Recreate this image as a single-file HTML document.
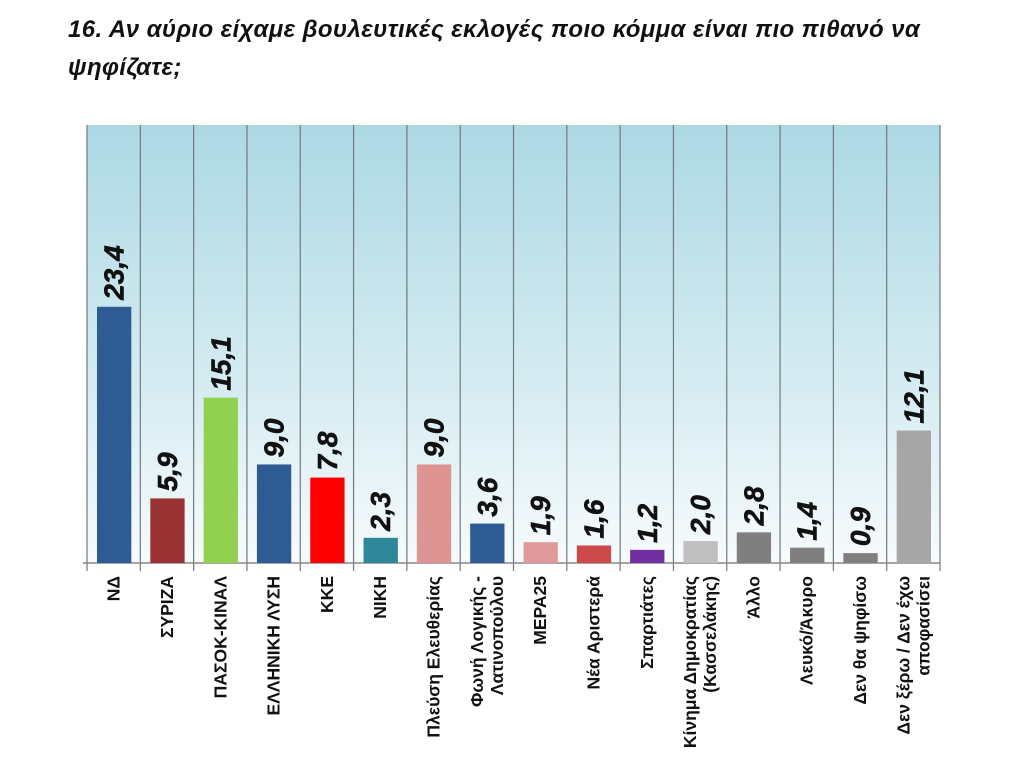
<!DOCTYPE html>
<html><head><meta charset="utf-8"><style>
html,body{margin:0;padding:0;background:#fff;width:1024px;height:768px;overflow:hidden}
#title{position:absolute;left:68px;top:11px;width:950px;font:italic bold 24px "Liberation Sans","DejaVu Sans",sans-serif;letter-spacing:0.4px;line-height:38px;color:#111;white-space:nowrap}
svg{position:absolute;left:0;top:0}
</style></head><body>
<div id="title">16. Αν αύριο είχαμε βουλευτικές εκλογές ποιο κόμμα είναι πιο πιθανό να<br>ψηφίζατε;</div>
<svg id="chart" width="1024" height="768">
<defs><linearGradient id="bg" x1="0" y1="0" x2="0" y2="1"><stop offset="0" stop-color="#acd8e4"/><stop offset="0.6" stop-color="#d6ecf2"/><stop offset="1" stop-color="#f7fbfc"/></linearGradient></defs>
</svg>
<script>
const categories=[["ΝΔ"],["ΣΥΡΙΖΑ"],["ΠΑΣΟΚ-ΚΙΝΑΛ"],["ΕΛΛΗΝΙΚΗ ΛΥΣΗ"],["ΚΚΕ"],["ΝΙΚΗ"],["Πλεύση Ελευθερίας"],["Φωνή Λογικής -","Λατινοπούλου"],["ΜΕΡΑ25"],["Νέα Αριστερά"],["Σπαρτιάτες"],["Κίνημα Δημοκρατίας","(Κασσελάκης)"],["Άλλο"],["Λευκό/Άκυρο"],["Δεν θα ψηφίσω"],["Δεν ξέρω / Δεν έχω","αποφασίσει"]];
const values=[23.4,5.9,15.1,9.0,7.8,2.3,9.0,3.6,1.9,1.6,1.2,2.0,2.8,1.4,0.9,12.1];
const labels=["23,4","5,9","15,1","9,0","7,8","2,3","9,0","3,6","1,9","1,6","1,2","2,0","2,8","1,4","0,9","12,1"];
const colors=["#2f5b95","#993333","#92d050","#2f5b95","#ff0000","#2e8899","#df9494","#2f5b95","#e0999a","#cc4a4a","#7030a0","#bfbfbf","#7f7f7f","#7f7f7f","#7f7f7f","#a6a6a6"];
const yMax=40;
const L=87,R=940,T=125,B=563;
const svg=document.getElementById('chart');
const NS='http://www.w3.org/2000/svg';
const cw=(R-L)/categories.length;
const y=v=>B-(v/yMax)*(B-T);
const x=i=>L+i*cw;
function mk(t,a){const e=document.createElementNS(NS,t);for(const k in a)e.setAttribute(k,a[k]);svg.appendChild(e);return e;}
const bg=mk('rect',{x:L,y:T,width:R-L,height:B-T,fill:'url(#bg)'});


for(let i=0;i<=categories.length;i++){
  const g=mk('line',{x1:x(i),x2:x(i),y1:T,y2:B+8,stroke:'#6f7a7e','stroke-width':1.2});
  
  
}
const ax=mk('line',{x1:L-4,x2:R,y1:B,y2:B,stroke:'#888','stroke-width':1.5});


values.forEach((v,i)=>{
  const bx=x(i)+10,bw=cw-19;
  const r=mk('rect',{x:bx,y:y(v),width:bw,height:B-y(v),fill:colors[i]});
  
  
  const cx=x(i)+cw/2;
  const t=mk('text',{x:0,y:0,transform:`translate(${cx+10},${y(v)-7}) rotate(-90)`,'font-family':'Liberation Sans, DejaVu Sans, sans-serif','font-size':28,'font-weight':'bold','font-style':'italic',fill:'#111',stroke:'#111','stroke-width':0.6});
  t.textContent=labels[i];
  
  
  const lines=categories[i];
  lines.forEach((ln,j)=>{
    const off=(j-(lines.length-1)/2)*20+6;
    const c=mk('text',{x:0,y:0,transform:`translate(${cx+off},${576}) rotate(-90)`,'text-anchor':'end','font-family':'Liberation Sans, DejaVu Sans, sans-serif','font-size':17.5,'font-weight':'bold',fill:'#111'});
    c.textContent=ln;
    
    
  });
});
</script>
</body></html>
